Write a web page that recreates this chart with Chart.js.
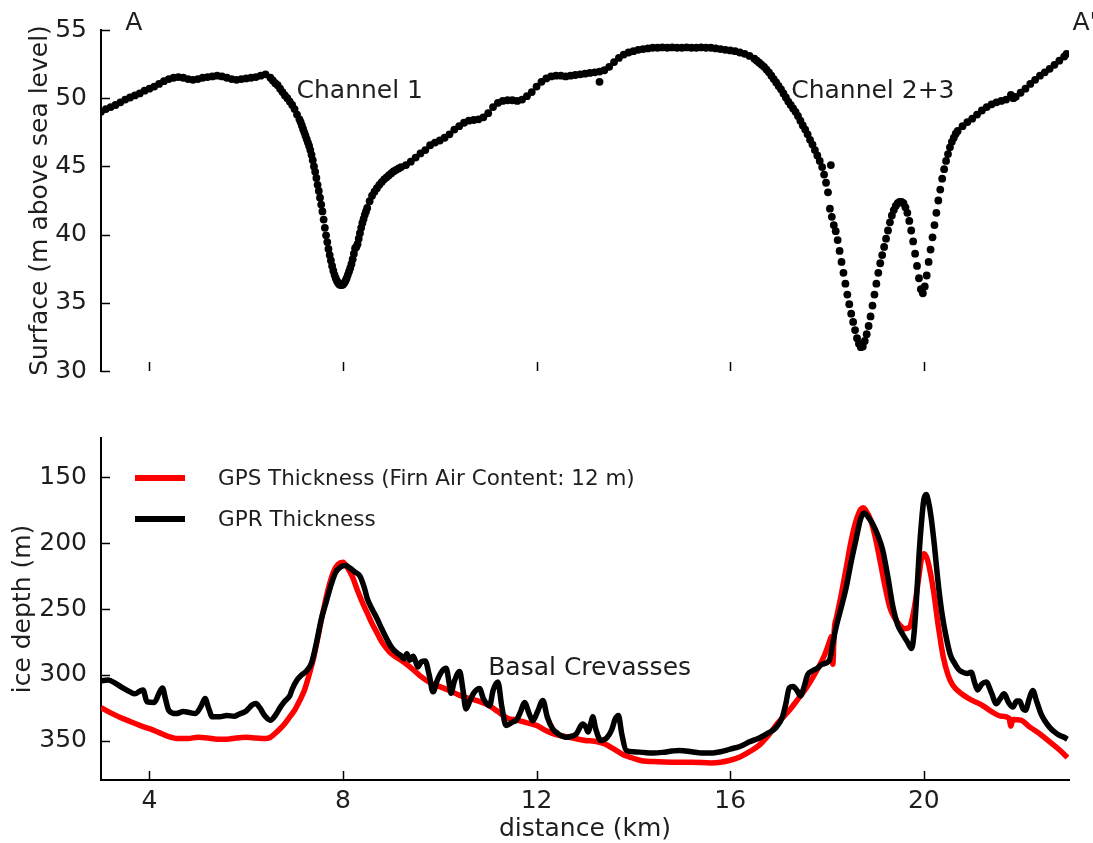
<!DOCTYPE html>
<html>
<head>
<meta charset="utf-8">
<title>Surface and ice depth profile A - A'</title>
<script src="https://cdn.jsdelivr.net/npm/chart.js@4.4.0/dist/chart.umd.min.js"></script>
<style>
    body { margin: 0; background: #fff; }
    #top-panel { position: absolute; left: 0; top: 0; width: 1093px; height: 400px; }
    #bottom-panel { position: absolute; left: 0; top: 400px; width: 1093px; height: 443px; }
</style>
</head>
<body>
<div id="top-panel"><canvas id="surface-chart"></canvas></div>
<div id="bottom-panel"><canvas id="depth-chart"></canvas></div>
<script>
// tick values
const distTicks = [4, 8, 12, 16, 20];
const elevTicks = [30, 35, 40, 45, 50, 55];
const depthTicks = [150, 200, 250, 300, 350];

// surface elevation (m above sea level) along the profile, km
const surfaceKm = [
    3.0, 3.1, 3.2, 3.3, 3.4, 3.5, 3.6, 3.7, 3.8, 3.9,
    4.0, 4.1, 4.2, 4.3, 4.4, 4.5, 4.6, 4.7, 4.8, 4.9,
    5.0, 5.1, 5.2, 5.3, 5.4, 5.5, 5.6, 5.7, 5.8, 5.9,
    6.0, 6.1, 6.2, 6.3, 6.4, 6.5, 6.55, 6.6, 6.65, 6.7,
    6.75, 6.8, 6.85, 6.9, 6.95, 7.0, 7.05, 7.1, 7.125, 7.15,
    7.175, 7.2, 7.225, 7.25, 7.275, 7.3, 7.325, 7.35, 7.375, 7.4,
    7.425, 7.45, 7.475, 7.5, 7.525, 7.55, 7.575, 7.6, 7.625, 7.65,
    7.675, 7.7, 7.725, 7.75, 7.775, 7.8, 7.825, 7.85, 7.875, 7.9,
    7.925, 7.95, 7.975, 8.0, 8.025, 8.05, 8.075, 8.1, 8.125, 8.15,
    8.175, 8.2, 8.225, 8.25, 8.275, 8.3, 8.325, 8.35, 8.375, 8.4,
    8.425, 8.45, 8.475, 8.5, 8.55, 8.6, 8.65, 8.7, 8.75, 8.8,
    8.85, 8.9, 8.95, 9.0, 9.05, 9.1, 9.15, 9.2, 9.3, 9.4,
    9.5, 9.6, 9.7, 9.8, 9.9, 10.0, 10.1, 10.2, 10.3, 10.4,
    10.5, 10.6, 10.7, 10.8, 10.9, 11.0, 11.1, 11.2, 11.3, 11.4,
    11.5, 11.6, 11.7, 11.8, 11.9, 12.0, 12.1, 12.2, 12.3, 12.4,
    12.5, 12.6, 12.7, 12.8, 12.9, 13.0, 13.1, 13.2, 13.3, 13.3,
    13.4, 13.5, 13.6, 13.7, 13.8, 13.9, 14.0, 14.1, 14.2, 14.3,
    14.4, 14.5, 14.6, 14.7, 14.8, 14.9, 15.0, 15.1, 15.2, 15.3,
    15.4, 15.5, 15.6, 15.7, 15.8, 15.9, 16.0, 16.1, 16.2, 16.3,
    16.4, 16.5, 16.55, 16.6, 16.65, 16.7, 16.75, 16.8, 16.85, 16.9,
    16.95, 17.0, 17.05, 17.1, 17.15, 17.2, 17.25, 17.3, 17.35, 17.4,
    17.45, 17.5, 17.55, 17.6, 17.65, 17.7, 17.75, 17.8, 17.85, 17.9,
    17.94, 17.98, 18.02, 18.06, 18.08, 18.1, 18.14, 18.18, 18.22, 18.26,
    18.3, 18.34, 18.38, 18.42, 18.46, 18.5, 18.54, 18.58, 18.62, 18.66,
    18.7, 18.74, 18.78, 18.82, 18.86, 18.9, 18.94, 18.98, 19.02, 19.06,
    19.1, 19.14, 19.18, 19.22, 19.26, 19.3, 19.34, 19.38, 19.42, 19.46,
    19.5, 19.54, 19.58, 19.62, 19.66, 19.7, 19.74, 19.78, 19.82, 19.86,
    19.9, 19.94, 19.98, 20.02, 20.06, 20.1, 20.14, 20.18, 20.22, 20.26,
    20.3, 20.34, 20.38, 20.42, 20.46, 20.5, 20.54, 20.58, 20.62, 20.66,
    20.7, 20.8, 20.9, 21.0, 21.1, 21.2, 21.3, 21.4, 21.5, 21.6,
    21.7, 21.8, 21.85, 21.9, 22.0, 22.1, 22.2, 22.3, 22.4, 22.5,
    22.6, 22.7, 22.8, 22.9, 22.95
];
const surfaceElev = [
    49.0, 49.2, 49.35, 49.5, 49.7, 49.9, 50.05, 50.2, 50.35, 50.55,
    50.7, 50.85, 51.05, 51.25, 51.4, 51.5, 51.55, 51.5, 51.4, 51.35,
    51.4, 51.5, 51.55, 51.6, 51.65, 51.6, 51.5, 51.4, 51.35, 51.4,
    51.45, 51.5, 51.55, 51.65, 51.75, 51.5, 51.3, 51.1, 50.95, 50.7,
    50.45, 50.2, 50.0, 49.75, 49.5, 49.2, 48.8, 48.45, 48.25, 48.0,
    47.75, 47.5, 47.25, 47.0, 46.75, 46.5, 46.2, 45.85, 45.45, 45.0,
    44.6, 44.15, 43.65, 43.2, 42.7, 42.2, 41.7, 41.1, 40.5, 39.95,
    39.45, 38.95, 38.5, 38.1, 37.7, 37.35, 37.05, 36.8, 36.6, 36.45,
    36.35, 36.3, 36.3, 36.35, 36.45, 36.6, 36.8, 37.05, 37.3, 37.55,
    37.85, 38.2, 38.6, 39.0, 39.1, 39.3, 39.7, 40.1, 40.5, 40.85,
    41.15, 41.45, 41.7, 41.95, 42.45, 42.85, 43.15, 43.4, 43.65, 43.85,
    44.05, 44.2, 44.35, 44.5, 44.65, 44.75, 44.85, 44.95, 45.1, 45.35,
    45.65, 45.95, 46.2, 46.55, 46.75, 46.9, 47.1, 47.35, 47.7, 47.95,
    48.2, 48.35, 48.4, 48.45, 48.6, 48.9, 49.35, 49.65, 49.8, 49.85,
    49.85, 49.8, 49.9, 50.15, 50.45, 50.85, 51.2, 51.45, 51.6, 51.65,
    51.65, 51.6, 51.65, 51.7, 51.75, 51.8, 51.85, 51.9, 51.95, 51.2,
    52.05, 52.3, 52.65, 52.95, 53.2, 53.35, 53.45, 53.55, 53.6, 53.65,
    53.7, 53.7, 53.72, 53.7, 53.72, 53.7, 53.7, 53.72, 53.7, 53.7,
    53.72, 53.7, 53.7, 53.65, 53.6, 53.55, 53.5, 53.45, 53.35, 53.25,
    53.1, 52.9, 52.75, 52.6, 52.45, 52.3, 52.1, 51.9, 51.65, 51.4,
    51.15, 50.9, 50.65, 50.35, 50.05, 49.75, 49.5, 49.25, 49.0, 48.7,
    48.35, 48.0, 47.7, 47.35, 46.95, 46.6, 46.2, 45.8, 45.4, 44.95,
    44.4, 43.8, 43.1, 41.9, 45.1, 41.3, 40.7, 40.25, 39.6, 38.8,
    38.0, 37.2, 36.4, 35.6, 34.9, 34.2, 33.6, 33.0, 32.4, 32.0,
    31.75, 31.8, 32.2, 32.7, 33.3, 34.0, 34.8, 35.6, 36.4, 37.2,
    37.9, 38.5, 39.1, 39.7, 40.3, 40.9, 41.4, 41.8, 42.1, 42.3,
    42.4, 42.4, 42.3, 42.0, 41.6, 41.0, 40.3, 39.5, 38.6, 37.7,
    36.8, 36.0, 35.7, 36.2, 37.0, 38.0, 38.9, 39.8, 40.7, 41.6,
    42.5, 43.3, 44.1, 44.8, 45.4, 45.9, 46.4, 46.8, 47.1, 47.4,
    47.6, 47.95, 48.25, 48.5, 48.8, 49.1, 49.35, 49.55, 49.7, 49.8,
    49.9, 50.25, 50.0, 50.1, 50.4, 50.7, 51.05, 51.35, 51.65, 51.9,
    52.15, 52.45, 52.75, 53.05, 53.25
];

// GPS derived thickness (firn air content 12 m), ice depth in m
const gpsKm = [
    3.0, 3.2, 3.4, 3.6, 3.8, 4.0, 4.2, 4.4, 4.6, 4.8,
    5.0, 5.2, 5.4, 5.6, 5.8, 6.0, 6.2, 6.4, 6.5, 6.6,
    6.7, 6.8, 6.9, 7.0, 7.1, 7.2, 7.3, 7.4, 7.5, 7.6,
    7.7, 7.8, 7.9, 8.0, 8.1, 8.2, 8.3, 8.4, 8.5, 8.6,
    8.7, 8.8, 8.9, 9.0, 9.2, 9.4, 9.6, 9.8, 10.0, 10.2,
    10.4, 10.6, 10.8, 11.0, 11.2, 11.4, 11.6, 11.8, 12.0, 12.2,
    12.4, 12.6, 12.8, 13.0, 13.2, 13.4, 13.6, 13.8, 14.0, 14.2,
    14.4, 14.8, 15.2, 15.6, 15.8, 16.0, 16.2, 16.4, 16.6, 16.8,
    17.0, 17.2, 17.4, 17.6, 17.8, 17.95, 18.05, 18.09, 18.12, 18.15,
    18.2, 18.3, 18.4, 18.5, 18.6, 18.7, 18.75, 18.8, 18.9, 19.0,
    19.1, 19.2, 19.3, 19.4, 19.5, 19.6, 19.7, 19.8, 19.9, 19.95,
    20.0, 20.05, 20.1, 20.2, 20.3, 20.4, 20.5, 20.6, 20.8, 21.0,
    21.2, 21.4, 21.6, 21.76, 21.8, 21.84, 22.0, 22.2, 22.4, 22.6,
    22.8, 22.97
];
const gpsDepth = [
    325, 329, 332.5, 335.5, 338.5, 341, 344, 347, 348.5, 348.5,
    347.5, 348, 349, 349, 348, 347.5, 348, 348.5, 347.5, 344.5,
    341, 337, 332, 327, 320, 312, 300, 286, 268, 250,
    234, 222, 216, 214.5, 219, 226, 236, 245, 253, 261,
    268, 275, 280, 284, 289, 294.5, 301, 306, 309, 312,
    315.5, 318, 320, 323, 328, 333, 334.5, 336.5, 338.5, 342.5,
    345.5, 347, 348.5, 350, 350.5, 352.5, 356.5, 361, 363.5, 365.5,
    366, 366.5, 366.5, 367, 366.5, 365, 362.5, 358.5, 353.5, 345.5,
    336, 328, 318.5, 308.5, 296, 285, 275, 271, 292, 266,
    256, 238, 218, 198, 183, 174, 173, 175, 182, 196,
    214, 233, 249, 257, 262, 265, 264, 250, 225, 212,
    208, 210, 216, 236, 263, 286, 300, 308, 315, 319.5,
    323, 328, 331.5, 333, 339, 334, 334.5, 340, 345, 351,
    357, 363
];

// GPR measured thickness, ice depth in m
const gprKm = [
    3.0, 3.15, 3.3, 3.45, 3.6, 3.7, 3.8, 3.87, 3.95, 4.1,
    4.2, 4.27, 4.33, 4.4, 4.55, 4.7, 4.8, 4.95, 5.08, 5.15,
    5.22, 5.3, 5.45, 5.6, 5.75, 5.85, 6.0, 6.12, 6.2, 6.28,
    6.38, 6.5, 6.6, 6.7, 6.8, 6.9, 6.95, 7.05, 7.15, 7.25,
    7.35, 7.45, 7.55, 7.65, 7.75, 7.85, 7.95, 8.05, 8.15, 8.25,
    8.35, 8.45, 8.5, 8.6, 8.7, 8.8, 8.9, 9.0, 9.1, 9.2,
    9.26, 9.32, 9.38, 9.45, 9.5, 9.55, 9.62, 9.7, 9.78, 9.86,
    9.95, 10.05, 10.13, 10.2, 10.23, 10.3, 10.41, 10.48, 10.54, 10.62,
    10.7, 10.82, 10.9, 11.03, 11.1, 11.2, 11.28, 11.37, 11.5, 11.58,
    11.67, 11.75, 11.85, 11.92, 12.02, 12.13, 12.22, 12.33, 12.45, 12.61,
    12.75, 12.82, 12.95, 13.02, 13.06, 13.12, 13.16, 13.22, 13.33, 13.45,
    13.55, 13.62, 13.69, 13.76, 13.85, 14.0, 14.2, 14.4, 14.6, 14.8,
    14.95, 15.2, 15.4, 15.6, 15.8, 16.0, 16.2, 16.4, 16.6, 16.8,
    16.95, 17.08, 17.15, 17.22, 17.3, 17.38, 17.45, 17.52, 17.6, 17.7,
    17.8, 17.9, 18.05, 18.12, 18.19, 18.3, 18.4, 18.5, 18.6, 18.7,
    18.77, 18.85, 18.94, 19.05, 19.15, 19.25, 19.36, 19.46, 19.56, 19.66,
    19.75, 19.8, 19.84, 19.9, 19.95, 20.0, 20.05, 20.1, 20.15, 20.22,
    20.29, 20.37, 20.46, 20.55, 20.64, 20.72, 20.8, 20.9, 20.98, 21.05,
    21.11, 21.2, 21.29, 21.4, 21.5, 21.58, 21.66, 21.75, 21.84, 21.92,
    21.98, 22.05, 22.1, 22.18, 22.25, 22.33, 22.42, 22.5, 22.6, 22.7,
    22.8, 22.9, 22.97
];
const gprDepth = [
    304.5, 304, 306.5, 310, 313, 314.5, 312.5, 311.5, 320.5, 321,
    314, 310, 318, 327, 329.5, 328, 328.5, 329.5, 323, 318,
    325, 332, 332, 331, 331.5, 330, 327.5, 323, 321.8, 325,
    331, 334.5, 331, 325, 320, 316, 311, 304, 300, 297,
    291, 276, 258, 245, 232, 222, 218, 217, 219, 222,
    225, 235, 242, 250, 257, 265, 272.5, 279, 283, 285.5,
    288, 284, 289, 286, 290, 294, 290, 289.5, 300, 313,
    304, 297, 295, 308, 314, 305, 297.5, 312, 326, 320,
    314, 310.5, 318, 323.5, 312, 305.5, 324, 338.5, 336, 334.5,
    328, 321, 330, 335, 328, 319.5, 332, 341, 345, 347.5,
    346.5, 345, 337.5, 340, 343.5, 337, 332, 341, 350, 348,
    342, 334, 331, 345, 357.5, 358.5, 359, 359.5, 359, 358,
    357.5, 358.5, 359.5, 359.5, 358.5, 356.5, 354.5, 351, 348, 344,
    340, 332, 322, 310, 309, 312, 316, 310, 300, 297,
    295, 292, 289, 276, 263.5, 248, 233, 214, 197, 181,
    177, 180, 185, 194, 205, 224, 248, 262, 269, 275,
    280, 268, 248, 210, 185, 167, 163, 169, 180, 202,
    228, 252, 271, 285, 291.5, 296, 298, 299, 298, 306,
    311.5, 307, 305.5, 314, 322, 318, 314.5, 321, 324.5, 320,
    320, 326, 327, 318, 312, 320, 329.5, 335, 340, 343.5,
    346, 347.5, 349
];

const FONT = 'DejaVu Sans';
const TEXT = '#1e1e1e';
Chart.defaults.font.family = FONT;
Chart.defaults.color = TEXT;

function toPoints(xs, ys) {
    return xs.map((x, i) => ({ x: x, y: ys[i] }));
}

function fixedTicks(values) {
    return scale => { scale.ticks = values.map(v => ({ value: v })); };
}

// small tick marks pointing into the plot, as in the original figure
const innerTicks = {
    id: 'innerTicks',
    afterDraw(chart, args, opts) {
        const { ctx, chartArea } = chart;
        const len = opts.length || 8;
        ctx.save();
        ctx.strokeStyle = '#000';
        ctx.lineWidth = 1.5;
        chart.scales.x.ticks.forEach(t => {
            const px = Math.round(chart.scales.x.getPixelForValue(t.value)) + 0.5;
            ctx.beginPath();
            ctx.moveTo(px, chartArea.bottom);
            ctx.lineTo(px, chartArea.bottom - len);
            ctx.stroke();
        });
        chart.scales.y.ticks.forEach(t => {
            const py = Math.round(chart.scales.y.getPixelForValue(t.value)) + 0.5;
            ctx.beginPath();
            ctx.moveTo(chartArea.left, py);
            ctx.lineTo(chartArea.left + len, py);
            ctx.stroke();
        });
        ctx.restore();
    }
};

// text labels placed at data coordinates
const notes = {
    id: 'notes',
    afterDraw(chart, args, opts) {
        const ctx = chart.ctx;
        ctx.save();
        ctx.fillStyle = TEXT;
        ctx.font = (opts.size || 25) + 'px "' + FONT + '"';
        ctx.textAlign = 'left';
        ctx.textBaseline = 'alphabetic';
        (opts.items || []).forEach(n => {
            ctx.fillText(n.text, chart.scales.x.getPixelForValue(n.x), chart.scales.y.getPixelForValue(n.y));
        });
        ctx.restore();
    }
};

// frameless legend in the upper left corner of the lower panel
const lineLegend = {
    id: 'lineLegend',
    afterDraw(chart, args, opts) {
        const ctx = chart.ctx;
        const left = chart.chartArea.left + opts.offsetX;
        ctx.save();
        ctx.font = opts.size + 'px "' + FONT + '"';
        ctx.textBaseline = 'middle';
        chart.data.datasets.forEach((ds, i) => {
            const y = chart.chartArea.top + opts.offsetY + i * opts.rowGap;
            ctx.strokeStyle = ds.borderColor;
            ctx.lineWidth = 6;
            ctx.beginPath();
            ctx.moveTo(left, y);
            ctx.lineTo(left + 50, y);
            ctx.stroke();
            ctx.fillStyle = TEXT;
            ctx.fillText(ds.label, left + 83, y + 1);
        });
        ctx.restore();
    }
};

const tickFont = { family: FONT, size: 25 };

new Chart(document.getElementById('surface-chart'), {
    type: 'scatter',
    data: {
        datasets: [{
            label: 'Surface',
            data: toPoints(surfaceKm, surfaceElev),
            backgroundColor: '#000',
            borderWidth: 0,
            pointRadius: 3.9
        }]
    },
    options: {
        responsive: true,
        maintainAspectRatio: false,
        animation: false,
        devicePixelRatio: 1,
        layout: { padding: { top: 30, right: 24, left: 0, bottom: 0 } },
        plugins: {
            legend: { display: false },
            tooltip: { enabled: false },
            innerTicks: { length: 9 },
            notes: {
                items: [
                    { text: 'A', x: 3.5, y: 55 },
                    { text: "A'", x: 23.07, y: 55 },
                    { text: 'Channel 1', x: 7.04, y: 50 },
                    { text: 'Channel 2+3', x: 17.26, y: 50 }
                ]
            }
        },
        scales: {
            x: {
                type: 'linear',
                min: 3,
                max: 23,
                grid: { display: false },
                border: { display: false },
                ticks: { display: false },
                afterBuildTicks: fixedTicks(distTicks),
                afterFit: s => { s.height = 29; }
            },
            y: {
                min: 30,
                max: 55,
                grid: { display: false },
                border: { display: true, color: '#000', width: 2 },
                ticks: { font: tickFont, color: TEXT, padding: 6 },
                afterBuildTicks: fixedTicks(elevTicks),
                title: {
                    display: true,
                    text: 'Surface (m above sea level)',
                    font: tickFont,
                    color: TEXT,
                    padding: { top: 25, bottom: 0 }
                },
                afterFit: s => { s.width = 101; }
            }
        }
    },
    plugins: [innerTicks, notes]
});

new Chart(document.getElementById('depth-chart'), {
    type: 'line',
    data: {
        datasets: [
            {
                label: 'GPS Thickness (Firn Air Content: 12 m)',
                data: toPoints(gpsKm, gpsDepth),
                borderColor: '#ff0000',
                borderWidth: 5.5,
                pointRadius: 0,
                cubicInterpolationMode: 'monotone',
                order: 1
            },
            {
                label: 'GPR Thickness',
                data: toPoints(gprKm, gprDepth),
                borderColor: '#000000',
                borderWidth: 5.5,
                pointRadius: 0,
                cubicInterpolationMode: 'monotone',
                order: 0
            }
        ]
    },
    options: {
        responsive: true,
        maintainAspectRatio: false,
        animation: false,
        devicePixelRatio: 1,
        layout: { padding: { top: 38, right: 24, left: 0, bottom: 0 } },
        plugins: {
            legend: { display: false },
            tooltip: { enabled: false },
            innerTicks: { length: 9 },
            notes: { items: [{ text: 'Basal Crevasses', x: 11.0, y: 300 }] },
            lineLegend: { offsetX: 34, offsetY: 40, rowGap: 41, size: 21.5 }
        },
        scales: {
            x: {
                type: 'linear',
                min: 3,
                max: 23,
                grid: { display: false },
                border: { display: true, color: '#000', width: 2 },
                ticks: { font: tickFont, color: TEXT, padding: -2, maxRotation: 0 },
                afterBuildTicks: fixedTicks(distTicks),
                title: {
                    display: true,
                    text: 'distance (km)',
                    font: tickFont,
                    color: TEXT,
                    padding: { top: 0, bottom: -1 }
                },
                afterFit: s => { s.height = 63; }
            },
            y: {
                reverse: true,
                min: 120,
                max: 380,
                grid: { display: false },
                border: { display: true, color: '#000', width: 2 },
                ticks: { font: tickFont, color: TEXT, padding: 6 },
                afterBuildTicks: fixedTicks(depthTicks),
                title: {
                    display: true,
                    text: 'ice depth (m)',
                    font: tickFont,
                    color: TEXT,
                    padding: { top: 8, bottom: 0 }
                },
                afterFit: s => { s.width = 101; }
            }
        }
    },
    plugins: [innerTicks, notes, lineLegend]
});
</script>
</body>
</html>
